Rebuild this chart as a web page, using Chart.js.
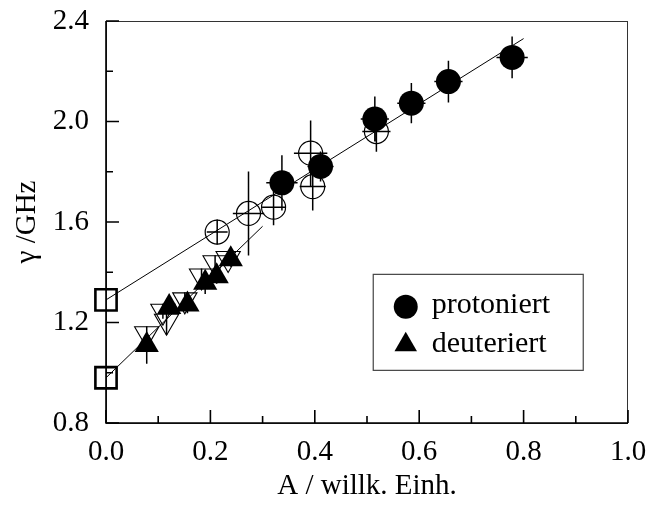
<!DOCTYPE html>
<html>
<head>
<meta charset="utf-8">
<script src="https://cdn.jsdelivr.net/npm/chart.js"></script>
<style>
  html, body { margin: 0; padding: 0; background: #fff; }
  #chart { display: block; }
</style>
</head>
<body>
<canvas id="chart" width="648" height="507"></canvas>
<script>
// tick values
const xMajorTicks = [0.0, 0.2, 0.4, 0.6, 0.8, 1.0];
const xMinorTicks = [0.1, 0.3, 0.5, 0.7, 0.9];
const yMajorTicks = [0.8, 1.2, 1.6, 2.0, 2.4];
const yMinorTicks = [1.0, 1.4, 1.8, 2.2];

// protoniert (filled circles)
const protX    = [0.337, 0.411, 0.515, 0.585, 0.656, 0.778];
const protY    = [1.756, 1.821, 2.010, 2.073, 2.159, 2.255];
const protXErr = [0.030, 0.025, 0.027, 0.027, 0.027, 0.030];
const protYErr = [0.110, 0.060, 0.090, 0.080, 0.083, 0.083];

// open circles
const openX    = [0.213, 0.273, 0.321, 0.392, 0.396, 0.518];
const openY    = [1.560, 1.634, 1.659, 1.874, 1.741, 1.960];
const openXErr = [0.020, 0.030, 0.022, 0.032, 0.025, 0.027];
const openYErr = [0.050, 0.167, 0.072, 0.130, 0.095, 0.080];

// deuteriert (filled triangles)
const deutX    = [0.078, 0.121, 0.156, 0.190, 0.212, 0.239];
const deutY    = [1.110, 1.262, 1.272, 1.358, 1.384, 1.452];
const deutYErr = [0.074, 0.030, 0.035, 0.045, 0.030, 0.030];

// open inverted triangles
const invX     = [0.078, 0.109, 0.116, 0.151, 0.183, 0.209, 0.234];
const invY     = [1.155, 1.245, 1.205, 1.290, 1.385, 1.438, 1.455];
const invYErr  = [0.030, 0.030, 0.055, 0.030, 0.030, 0.030, 0.030];

// extrapolated values at A = 0 (open squares)
const zeroX = [0.0, 0.0];
const zeroY = [0.98, 1.29];

// fit lines
const fitUpperX = [0.0, 0.80];
const fitUpperY = [1.29, 2.33];
const fitLowerX = [0.0, 0.30];
const fitLowerY = [0.98, 1.583];

const FONT = "'Liberation Serif', 'Times New Roman', serif";

function toPoints(xs, ys){
  return xs.map((x, i) => ({ x: x, y: ys[i] }));
}

const errorSets = [
  { xs: openX, ys: openY, xErr: openXErr, yErr: openYErr },
  { xs: protX, ys: protY, xErr: protXErr, yErr: protYErr },
  { xs: invX, ys: invY, xErr: null, yErr: invYErr },
  { xs: deutX, ys: deutY, xErr: null, yErr: deutYErr }
];

const decorPlugin = {
  id: 'decor',
  beforeDatasetsDraw(chart){
    const ctx = chart.ctx;
    const xs = chart.scales.x;
    const ys = chart.scales.y;
    const area = chart.chartArea;

    ctx.save();
    // frame
    ctx.strokeStyle = '#333';
    ctx.lineWidth = 1;
    ctx.strokeRect(area.left + 0.5, area.top + 0.5, area.right - area.left - 1, area.bottom - area.top);

    ctx.strokeStyle = '#000';
    ctx.lineWidth = 1.6;
    ctx.beginPath();
    ctx.moveTo(area.left, area.top);
    ctx.lineTo(area.left, area.bottom);
    ctx.lineTo(area.right, area.bottom);
    ctx.stroke();

    // inward ticks
    ctx.lineWidth = 1.6;
    ctx.beginPath();
    xMajorTicks.forEach(v => {
      const px = xs.getPixelForValue(v);
      ctx.moveTo(px, area.bottom);
      ctx.lineTo(px, area.bottom - 13);
    });
    xMinorTicks.forEach(v => {
      const px = xs.getPixelForValue(v);
      ctx.moveTo(px, area.bottom);
      ctx.lineTo(px, area.bottom - 7);
    });
    yMajorTicks.forEach(v => {
      const py = ys.getPixelForValue(v);
      ctx.moveTo(area.left, py);
      ctx.lineTo(area.left + 13, py);
    });
    yMinorTicks.forEach(v => {
      const py = ys.getPixelForValue(v);
      ctx.moveTo(area.left, py);
      ctx.lineTo(area.left + 7, py);
    });
    ctx.stroke();
    ctx.restore();
  },
  afterDatasetsDraw(chart){
    const ctx = chart.ctx;
    const xs = chart.scales.x;
    const ys = chart.scales.y;
    const area = chart.chartArea;

    ctx.save();
    // error bars
    ctx.strokeStyle = '#000';
    ctx.lineWidth = 1.5;
    ctx.beginPath();
    errorSets.forEach(set => {
      set.xs.forEach((x, i) => {
        const px = xs.getPixelForValue(x);
        const py = ys.getPixelForValue(set.ys[i]);
        if(set.yErr){
          ctx.moveTo(px, ys.getPixelForValue(set.ys[i] - set.yErr[i]));
          ctx.lineTo(px, ys.getPixelForValue(set.ys[i] + set.yErr[i]));
        }
        if(set.xErr){
          ctx.moveTo(xs.getPixelForValue(x - set.xErr[i]), py);
          ctx.lineTo(xs.getPixelForValue(x + set.xErr[i]), py);
        }
      });
    });
    ctx.stroke();

    // legend box
    const w = area.right - area.left;
    const h = area.bottom - area.top;
    const bx = area.left + w * 0.511;
    const by = area.top + h * 0.629;
    const bw = 210;
    const bh = 96;
    ctx.strokeStyle = '#444';
    ctx.lineWidth = 1.2;
    ctx.strokeRect(bx + 0.5, by + 0.5, bw, bh);

    ctx.fillStyle = '#000';
    ctx.beginPath();
    ctx.arc(bx + 33, by + 33, 12, 0, Math.PI * 2);
    ctx.fill();

    const tcx = bx + 33;
    const tcy = by + 71;
    const r = 13;
    ctx.beginPath();
    ctx.moveTo(tcx, tcy - r);
    ctx.lineTo(tcx + r * Math.sin(2 * Math.PI / 3), tcy - r * Math.cos(2 * Math.PI / 3));
    ctx.lineTo(tcx + r * Math.sin(4 * Math.PI / 3), tcy - r * Math.cos(4 * Math.PI / 3));
    ctx.closePath();
    ctx.fill();

    ctx.font = '30px ' + FONT;
    ctx.textAlign = 'left';
    ctx.textBaseline = 'alphabetic';
    ctx.fillText('protoniert', bx + 59, by + 39);
    ctx.fillText('deuteriert', bx + 59, by + 78);
    ctx.restore();
  }
};

const chart = new Chart(document.getElementById('chart'), {
  type: 'scatter',
  data: {
    datasets: [
      {
        label: 'protoniert',
        data: toPoints(protX, protY),
        pointStyle: 'circle',
        pointRadius: 12.5,
        backgroundColor: '#000',
        borderColor: '#000',
        borderWidth: 0,
        order: 1
      },
      {
        label: 'deuteriert',
        data: toPoints(deutX, deutY),
        pointStyle: 'triangle',
        pointRadius: 14,
        backgroundColor: '#000',
        borderColor: '#000',
        borderWidth: 0,
        order: 2
      },
      {
        label: 'open circles',
        data: toPoints(openX, openY),
        pointStyle: 'circle',
        pointRadius: 12,
        backgroundColor: 'rgba(0,0,0,0)',
        borderColor: '#000',
        borderWidth: 1.2,
        order: 3
      },
      {
        label: 'open triangles',
        data: toPoints(invX, invY),
        pointStyle: 'triangle',
        rotation: 180,
        pointRadius: 14,
        backgroundColor: 'rgba(0,0,0,0)',
        borderColor: '#000',
        borderWidth: 1.1,
        order: 4
      },
      {
        label: 'A = 0',
        data: toPoints(zeroX, zeroY),
        pointStyle: 'rect',
        pointRadius: 15,
        backgroundColor: 'rgba(0,0,0,0)',
        borderColor: '#000',
        borderWidth: 2.6,
        clip: false,
        order: 5
      },
      {
        label: 'fit protoniert',
        type: 'line',
        data: toPoints(fitUpperX, fitUpperY),
        borderColor: '#000',
        borderWidth: 1,
        pointRadius: 0,
        tension: 0,
        fill: false,
        order: 6
      },
      {
        label: 'fit deuteriert',
        type: 'line',
        data: toPoints(fitLowerX, fitLowerY),
        borderColor: '#000',
        borderWidth: 1,
        pointRadius: 0,
        tension: 0,
        fill: false,
        order: 6
      }
    ]
  },
  options: {
    responsive: false,
    animation: false,
    devicePixelRatio: 1,
    layout: {
      padding: { top: 21, right: 20, left: 0, bottom: 0 }
    },
    plugins: {
      legend: { display: false },
      tooltip: { enabled: false }
    },
    scales: {
      x: {
        type: 'linear',
        min: 0,
        max: 1,
        afterBuildTicks: scale => {
          scale.ticks = xMajorTicks.map(v => ({ value: v }));
        },
        afterFit: scale => {
          scale.height = 84;
          scale.paddingLeft = 0;
          scale.paddingRight = 0;
        },
        ticks: {
          callback: v => Number(v).toFixed(1),
          color: '#000',
          font: { family: FONT, size: 29 },
          padding: 12,
          maxRotation: 0
        },
        grid: { display: false, drawTicks: false },
        border: { display: false },
        title: {
          display: true,
          text: 'A / willk. Einh.',
          color: '#000',
          font: { family: FONT, size: 29 },
          padding: { top: 0, bottom: 3 }
        }
      },
      y: {
        type: 'linear',
        min: 0.8,
        max: 2.4,
        afterBuildTicks: scale => {
          scale.ticks = yMajorTicks.map(v => ({ value: v }));
        },
        afterFit: scale => {
          scale.width = 106;
          scale.paddingTop = 0;
          scale.paddingBottom = 0;
        },
        ticks: {
          callback: v => Number(v).toFixed(1),
          color: '#000',
          font: { family: FONT, size: 29 },
          padding: 17
        },
        grid: { display: false, drawTicks: false },
        border: { display: false },
        title: {
          display: true,
          text: 'γ /GHz',
          color: '#000',
          font: { family: FONT, size: 29 },
          padding: { top: 10, bottom: 0 }
        }
      }
    }
  },
  plugins: [decorPlugin]
});
</script>
</body>
</html>
